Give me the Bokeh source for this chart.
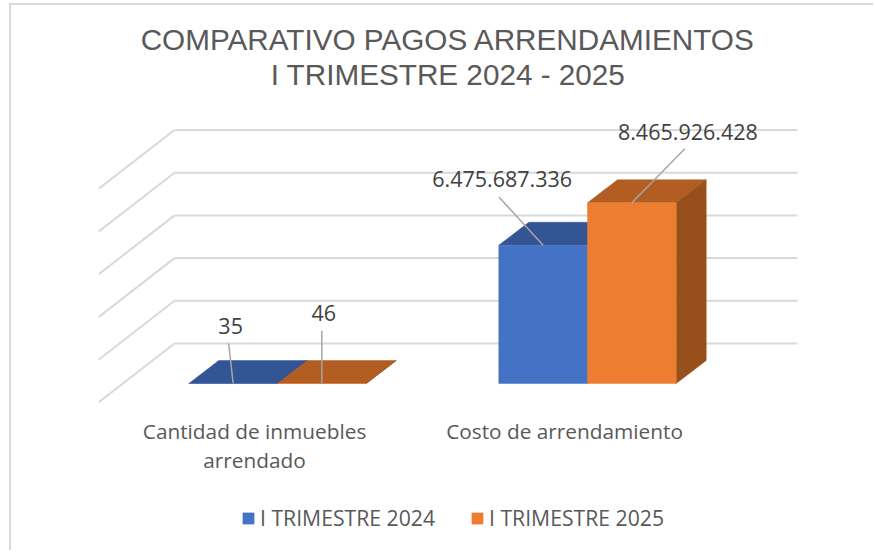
from bokeh.embed import file_html
from bokeh.resources import INLINE
from bokeh.plotting import figure
from bokeh.models import Legend, LegendItem, FixedTicker, Range1d, Title
from bokeh.core.properties import value

TITLE_LINES = ["COMPARATIVO PAGOS ARRENDAMIENTOS", "I TRIMESTRE 2024 - 2025"]
categories = ["Cantidad de inmuebles\narrendado", "Costo de arrendamiento"]
series_names = ["I TRIMESTRE 2024", "I TRIMESTRE 2025"]
values_2024 = [35, 6475687336]
values_2025 = [46, 8465926428]
labels_2024 = ["35", "6.475.687.336"]
labels_2025 = ["46", "8.465.926.428"]
grid_values = [0, 2e9, 4e9, 6e9, 8e9, 1e10]

# layout scale (pixels)
PX_X = 310.0          # px per category
PX_Y = 21.35e-9       # px per value unit
BAR_W = 88.7 / PX_X
DX, DY = 30 / PX_X, 23 / PX_Y          # bar depth
WALL_X0, WALL_X1 = (174 - 277) / PX_X, (797 - 277) / PX_X
WALL_DY = 40 / PX_Y                    # back wall above bar front
FLOOR_DX, FLOOR_DY = 76 / PX_X, 59 / PX_Y
# leader-line top end and label centre, px relative to the bar's front-top centre,
# indexed [series][category]
LEAD = {0: [(-4.5, -40), (-44, -48)], 1: [(0, -53), (53, -54)]}
LABEL = {0: [(-2.5, -58), (-41, -66)], 1: [(2, -71), (56, -71)]}

COLORS = {0: ("#4472C4", "#335593"), 1: ("#ED7D31", "#B25E23")}
SIDE = {0: "#2A4679", 1: "#974F1C"}

p = figure(width=864, height=547, output_backend="svg", toolbar_location=None,
           x_range=Range1d((98 - 277) / PX_X, (797 - 277) / PX_X),
           y_range=Range1d(-169 / PX_Y, 293 / PX_Y),
           min_border_left=87, min_border_right=78, min_border_top=85, min_border_bottom=0,
           outline_line_color=None, background_fill_color="white", border_fill_color="white")
p.styles = {"margin-top": "3px", "margin-left": "9px",
            "border-left": "2px solid #D9D9D9", "border-top": "2px solid #D9D9D9"}

p.title = None
for line in reversed(TITLE_LINES):
    p.add_layout(Title(text=line, align="center", text_font="Liberation Sans", text_font_size="29.7px",
                       text_font_style="normal", text_color="#595959", standoff=0, offset=2), "above")

# walls
gl = "#D9D9D9"
p.segment(x0=[WALL_X0] * len(grid_values), x1=[WALL_X1] * len(grid_values),
          y0=[v + WALL_DY for v in grid_values], y1=[v + WALL_DY for v in grid_values],
          line_color=gl, line_width=2)
p.segment(x0=[WALL_X0 - FLOOR_DX] * len(grid_values), x1=[WALL_X0] * len(grid_values),
          y0=[v + WALL_DY - FLOOR_DY for v in grid_values], y1=[v + WALL_DY for v in grid_values],
          line_color=gl, line_width=2)

# bars
legend_items = []
for s, vals in enumerate([values_2024, values_2025]):
    front, top = COLORS[s]
    side = SIDE[s]
    lefts = [i - BAR_W + s * BAR_W for i in range(2)]
    rights = [l + BAR_W for l in lefts]
    p.patches(xs=[[l, r, r + DX, l + DX] for l, r in zip(lefts, rights)],
              ys=[[v, v, v + DY, v + DY] for v in vals], fill_color=top, line_color=top, line_width=0.5)
    p.patches(xs=[[r, r + DX, r + DX, r] for r in rights],
              ys=[[0, DY, v + DY, v] for v in vals], fill_color=side, line_color=side, line_width=0.5)
    r = p.quad(left=lefts, right=rights, bottom=[0, 0], top=vals, fill_color=front, line_color=front, line_width=0.5)
    legend_items.append(LegendItem(label=series_names[s], renderers=[r]))

# leader lines and data labels
for s, (vals, labs) in enumerate([(values_2024, labels_2024), (values_2025, labels_2025)]):
    xc = [i - BAR_W + s * BAR_W + BAR_W / 2 for i in range(2)]
    p.segment(x0=xc, y0=vals,
              x1=[x + LEAD[s][i][0] / PX_X for i, x in enumerate(xc)],
              y1=[v - LEAD[s][i][1] / PX_Y for i, v in enumerate(vals)],
              line_color="#A6A6A6", line_width=1.5)
    p.text(x=[x + LABEL[s][i][0] / PX_X for i, x in enumerate(xc)],
           y=[v - LABEL[s][i][1] / PX_Y for i, v in enumerate(vals)],
           text=labs, text_align="center", text_baseline="middle",
           text_font=value("Open Sans"), text_font_size="21.5px", text_color="#404040")

# axes
p.yaxis.visible = False
p.grid.visible = False
ticks = [-0.074, 0.926]
p.xaxis.ticker = FixedTicker(ticks=ticks)
p.xaxis.fixed_location = -19 / PX_Y
p.xaxis.major_label_overrides = {t: c for t, c in zip(ticks, categories)}
p.xaxis.axis_line_color = None
p.xaxis.major_tick_line_color = None
p.xaxis.minor_tick_line_color = None
p.xaxis.major_label_text_font = "Open Sans"
p.xaxis.major_label_text_font_size = "20.8px"
p.xaxis.major_label_text_color = "#595959"
p.xaxis.major_label_standoff = 8
p.xaxis.major_label_text_line_height = 1.05

legend = Legend(items=legend_items, orientation="horizontal", location=(143, 20),
                border_line_color=None, background_fill_alpha=0,
                label_text_font="Open Sans", label_text_font_size="21.2px", label_text_color="#595959",
                glyph_width=14, glyph_height=14, spacing=35, label_standoff=5, margin=0)
p.add_layout(legend, "center")

open("out.html", "w").write(file_html(p, INLINE))
